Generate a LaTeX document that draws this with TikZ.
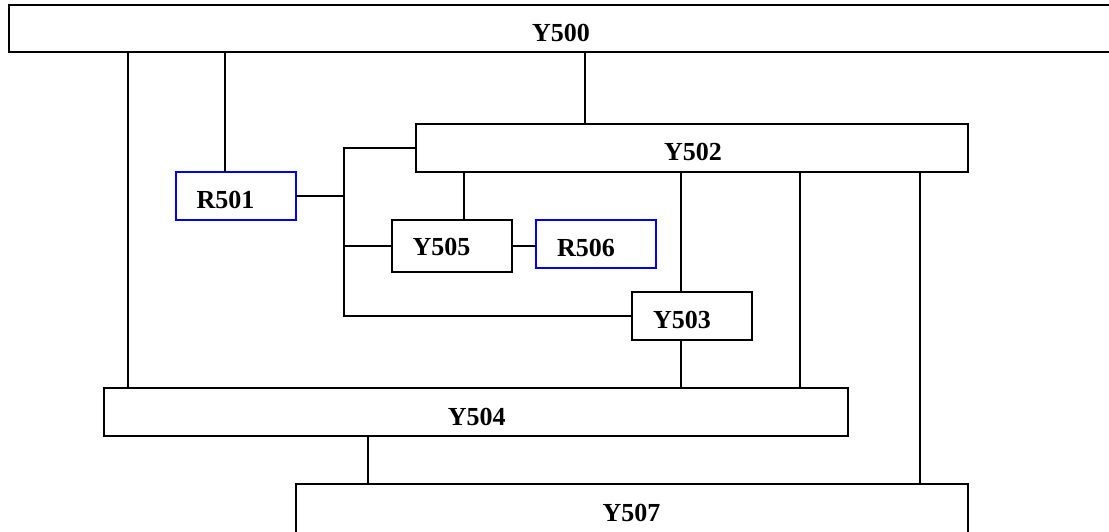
\documentclass[tikz,border=0pt]{standalone}
\usepackage{fontspec}
\setmainfont{Liberation Serif}
\begin{document}
\begin{tikzpicture}[x=1pt,y=-1pt,
  box/.style={draw=black,line width=1.5pt,rectangle,inner sep=0pt,outer sep=0pt},
  rbox/.style={box,draw=blue},
  lbl/.style={anchor=base,inner sep=0pt,font=\fontsize{26}{30}\selectfont\bfseries},
  conn/.style={draw=black,line width=1.4pt}]
\useasboundingbox (0,0) rectangle (1109,531);
% boxes
\node (y500) [box,minimum width=1103pt,minimum height=47pt] at (560.5,28.5) {};
\node (y502) [box,minimum width=552pt,minimum height=48pt] at (692,148) {};
\node (r501) [rbox,minimum width=120pt,minimum height=48pt] at (236,196) {};
\node (y505) [box,minimum width=120pt,minimum height=52pt] at (452,246) {};
\node (r506) [rbox,minimum width=120pt,minimum height=48pt] at (596,244) {};
\node (y503) [box,minimum width=120pt,minimum height=48pt] at (692,316) {};
\node (y504) [box,minimum width=744pt,minimum height=48pt] at (476,412) {};
\node (y507) [box,minimum width=672pt,minimum height=60pt] at (632,514) {};
% labels
\node (t500) [lbl] at (561,41) {Y500};
\node (t502) [lbl] at (693,160.5) {Y502};
\node (t501) [lbl] at (225.5,208.5) {R501};
\node (t505) [lbl] at (441.5,255.7) {Y505};
\node (t506) [lbl] at (586,256) {R506};
\node (t503) [lbl] at (682,328.3) {Y503};
\node (t504) [lbl] at (476.7,425.7) {Y504};
\node (t507) [lbl] at (631.5,521.5) {Y507};
% connector x positions
\coordinate (cA) at (128,0);
\coordinate (cB) at (225,0);
\coordinate (cC) at (585,0);
\coordinate (bus) at (344,0);
\coordinate (cD) at (464,0);
\coordinate (cE) at (681,0);
\coordinate (cF) at (800,0);
\coordinate (cG) at (920,0);
\coordinate (cH) at (368,0);
% connectors
\draw[conn] (y500.south -| cA) -- (y504.north -| cA);
\draw[conn] (y500.south -| cB) -- (r501.north -| cB);
\draw[conn] (y500.south -| cC) -- (y502.north -| cC);
\draw[conn] (y502.west) -- (y502.west -| bus) -- (y503.west -| bus) -- (y503.west);
\draw[conn] (r501.east) -- (r501.east -| bus);
\draw[conn] (y505.west -| bus) -- (y505.west);
\draw[conn] (y502.south -| cD) -- (y505.north -| cD);
\draw[conn] (y505.east) -- (r506.west |- y505.east);
\draw[conn] (y502.south -| cE) -- (y503.north -| cE);
\draw[conn] (y503.south -| cE) -- (y504.north -| cE);
\draw[conn] (y502.south -| cF) -- (y504.north -| cF);
\draw[conn] (y502.south -| cG) -- (y507.north -| cG);
\draw[conn] (y504.south -| cH) -- (y507.north -| cH);
\end{tikzpicture}
\end{document}
